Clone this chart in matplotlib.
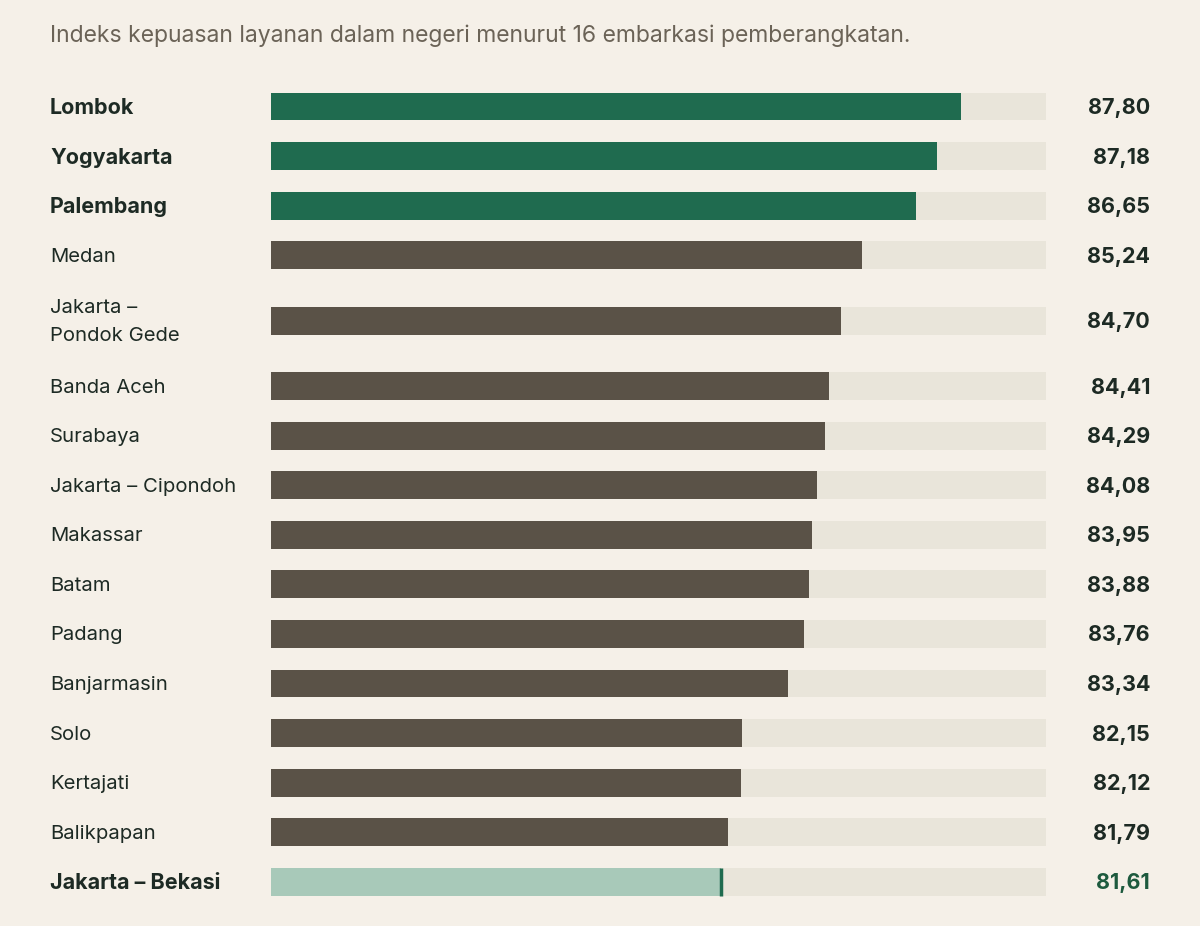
import numpy as np
import matplotlib.pyplot as plt
import matplotlib.transforms as mtransforms

plt.rcParams['font.family'] = ['Inter', 'DejaVu Sans']

cities = ['Lombok', 'Yogyakarta', 'Palembang', 'Medan', 'Jakarta –\nPondok Gede',
          'Banda Aceh', 'Surabaya', 'Jakarta – Cipondoh', 'Makassar', 'Batam',
          'Padang', 'Banjarmasin', 'Solo', 'Kertajati', 'Balikpapan', 'Jakarta – Bekasi']
values = [87.80, 87.18, 86.65, 85.24, 84.70, 84.41, 84.29, 84.08, 83.95, 83.88,
          83.76, 83.34, 82.15, 82.12, 81.79, 81.61]
value_labels = ['87,80', '87,18', '86,65', '85,24', '84,70', '84,41', '84,29', '84,08',
                '83,95', '83,88', '83,76', '83,34', '82,15', '82,12', '81,79', '81,61']
top3 = ['Lombok', 'Yogyakarta', 'Palembang']
highlight = 'Jakarta – Bekasi'

bg = '#f5f0e8'
track = '#e9e5da'
green = '#1f6b4f'
brown = '#5a5247'
light_green = '#a8c9b9'
text_dark = '#1d2a24'

# row heights: two-line label gets a taller row
heights = np.array([1.64 if '\n' in c else 1.0 for c in cities])
centers = np.cumsum(heights) - heights / 2
total = heights.sum()

fig = plt.figure(figsize=(12, 9.26), dpi=100, facecolor=bg)
ax = fig.add_axes([271 / 1200, 19.4 / 926, 775 / 1200, 824.9 / 926])
ax.set_facecolor(bg)

xmin, xmax = 70, 90
bar_h = 0.56
ax.barh(centers, [xmax - xmin] * len(cities), left=xmin, height=bar_h, color=track)
for c, v, y in zip(cities, values, centers):
    if c in top3:
        col = green
    elif c == highlight:
        col = light_green
    else:
        col = brown
    ax.barh(y, v - xmin, left=xmin, height=bar_h, color=col)
    if c == highlight:
        ax.plot([v, v], [y - bar_h / 2, y + bar_h / 2], color=green, lw=2.5,
                solid_capstyle='butt')

ax.set_xlim(xmin, xmax)
ax.set_ylim(total, 0)
ax.axis('off')

trans = mtransforms.blended_transform_factory(fig.transFigure, ax.transData)
for c, lab, y in zip(cities, value_labels, centers):
    bold = c in top3 or c == highlight
    ax.text(50 / 1200, y + 0.03, c, transform=trans, ha='left', va='center',
            fontsize=15.5 if bold else 14.6, color=text_dark,
            fontweight='bold' if bold else 'normal', linespacing=1.7)
    ax.text(1150 / 1200, y + 0.03, lab, transform=trans, ha='right', va='center',
            fontsize=15.5, fontweight='bold',
            color='#1d5a3e' if c == highlight else text_dark)

fig.text(50 / 1200, 1 - 36 / 926, 'Indeks kepuasan layanan dalam negeri menurut 16 embarkasi pemberangkatan.',
         ha='left', va='center', fontsize=16.5, color='#6b6357')

fig.savefig('out.png', dpi=100, facecolor=bg)
